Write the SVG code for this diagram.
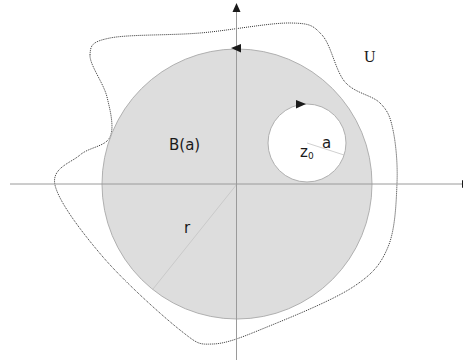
<svg xmlns="http://www.w3.org/2000/svg" width="463" height="360" viewBox="0 0 463 360">
<style>
.axis{stroke:#9a9a9a;stroke-width:1;fill:none}
.rad{stroke:#c4c4c4;stroke-width:0.8;fill:none}
.head{fill:#1a1a1a}
.lbl{font-family:"DejaVu Sans","Liberation Sans",sans-serif;font-size:15px;fill:#1a1a1a}
.ser{font-family:"Liberation Serif",serif;font-size:16px;fill:#1a1a1a}
</style>
<rect width="463" height="360" fill="#ffffff"/>
<g id="region-U">
<path d="M90,55 C90.5,45.2 91.7,41.7 110,38 C128.3,34.3 170,35.5 200,33 C230,30.5 269.7,22.7 290,23 C310.3,23.3 312.8,25.2 322,35 C331.2,44.8 335.3,70.7 345,82 C354.7,93.3 372,95 380,103 C388,111 390.2,116.7 393,130 C395.8,143.3 397.8,163.5 397,183 C396.2,202.5 395.3,229.7 388,247 C380.7,264.3 373.2,273.7 353,287 C332.8,300.3 290.3,317.5 267,327 C243.7,336.5 227.5,343.5 213,344 C198.5,344.5 198.3,344.5 180,330 C161.7,315.5 123.8,281.2 103,257 C82.2,232.8 58.8,202 55,185 C51.2,168 70.8,163 80,155 C89.2,147 105.5,146.7 110,137 C114.5,127.3 110.3,110.7 107,97 C103.7,83.3 89.5,64.8 90,55 Z" fill="none" stroke="#333" stroke-width="1" stroke-dasharray="1 1"/>
<text class="ser" x="364" y="62">U</text>
</g>
<g id="disc-B">
<circle cx="237" cy="184" r="135" fill="#dddddd" stroke="#b0b0b0" stroke-width="1"/>
<line class="rad" x1="237" y1="184" x2="153" y2="289"/>
<text class="lbl" x="169" y="150">B(a)</text>
<text class="lbl" x="184" y="233">r</text>
</g>
<g id="disc-a">
<circle cx="307" cy="143" r="39" fill="#ffffff" stroke="#b0b0b0" stroke-width="1"/>
<line class="rad" x1="307" y1="143" x2="344" y2="155"/>
<text class="lbl" x="322" y="148">a</text>
<text class="lbl" x="300" y="157">z<tspan font-size="9" dy="2">0</tspan></text>
<polygon class="head" points="306,104 296,100 296,108.5"/>
</g>
<g id="connectors">
<line class="axis" x1="10" y1="184" x2="463" y2="184"/>
<polygon class="head" points="462,180 471,184 462,188"/>
<line class="axis" x1="236.5" y1="8" x2="236.5" y2="360"/>
<polygon class="head" points="236.5,3 232.5,12 240.5,12"/>
<polygon class="head" points="231,48 241,44 241,52.5"/>
</g>
</svg>
